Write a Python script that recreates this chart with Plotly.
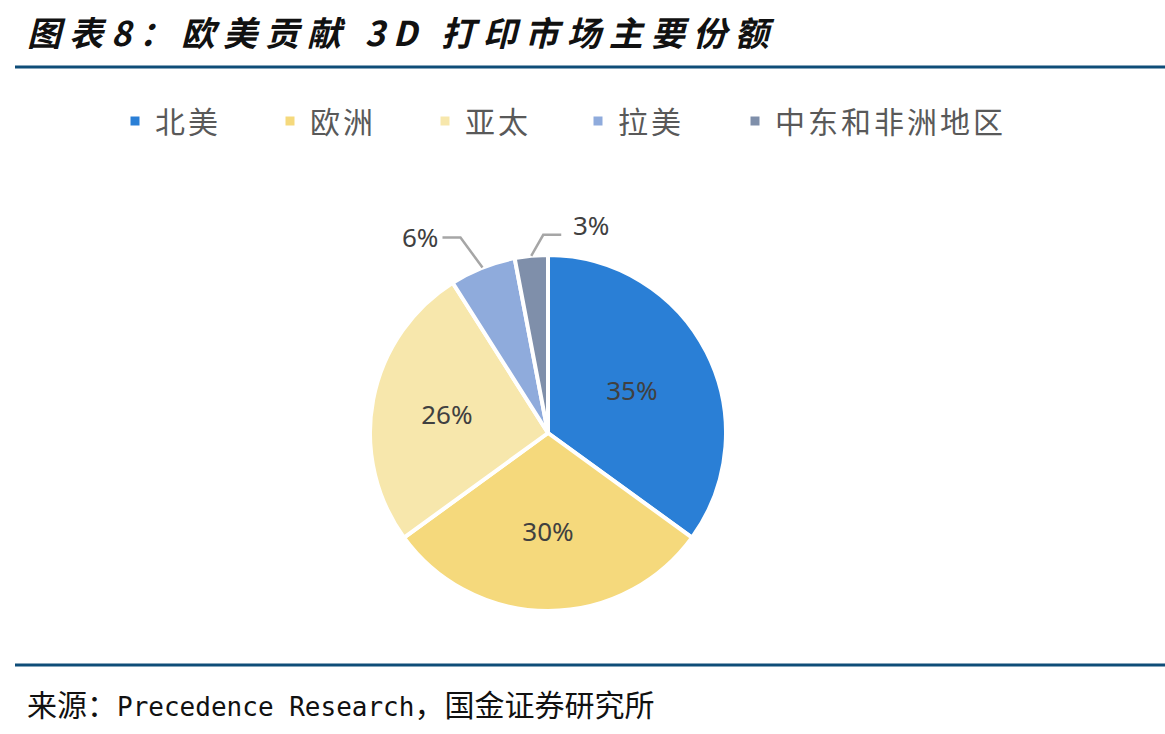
import math
import plotly.graph_objects as go

regions = ["北美", "欧洲", "亚太", "拉美", "中东和非洲地区"]
shares = [35, 30, 26, 6, 3]
colors = ["#2A7FD6", "#F5D97C", "#F7E7AC", "#8FABDC", "#7F8FAA"]
title_text = "图表8：欧美贡献 3D 打印市场主要份额"
source_cn1 = "来源："
source_en = "Precedence Research"
source_cn2 = "，国金证券研究所"

W, H = 1165, 734
cx, cy, r = 548, 433, 178
legend_text_x = [155, 310, 465, 618, 775]

inside_text = [f"{v}%" if v >= 10 else "" for v in shares]

fig = go.Figure()
fig.add_trace(go.Pie(
    labels=regions, values=shares, sort=False, direction="clockwise", rotation=0,
    marker=dict(colors=colors, line=dict(color="white", width=4)),
    text=inside_text, textinfo="text", textposition="inside",
    insidetextorientation="horizontal",
    textfont=dict(family="Noto Sans, sans-serif", size=26, color="#404040"),
    domain=dict(x=[(cx - r) / W, (cx + r) / W], y=[(H - cy - r) / H, (H - cy + r) / H]),
    hoverinfo="label+percent", showlegend=False,
))

# legend entries: one small legend per region, placed along a row
legend_layouts = {}
for k, (name, col) in enumerate(zip(regions, colors)):
    lname = "legend" if k == 0 else f"legend{k + 1}"
    fig.add_trace(go.Scatter(
        x=[None], y=[None], mode="markers",
        name=f"<span style='letter-spacing:3px'>{name}</span>",
        marker=dict(symbol="square", size=9, color=col),
        legend=lname, showlegend=True, hoverinfo="skip",
    ))
    legend_layouts[lname] = dict(
        x=(legend_text_x[k] - 40) / W, y=1 - 121 / H, xanchor="left", yanchor="middle",
        orientation="h", bgcolor="rgba(0,0,0,0)",
        font=dict(family="Noto Sans CJK SC", size=30, color="#595959"),
        itemsizing="trace",
    )

# outside labels for small slices, with elbow leader lines
total = sum(shares)
cum = 0
shapes = []
annotations = []
for i, v in enumerate(shares):
    mid = (cum + v / 2) / total * 2 * math.pi
    cum += v
    if v >= 10:
        continue
    px = cx + r * 1.0 * math.sin(mid)
    py = cy - r * 1.0 * math.cos(mid)
    left = (i == 3)
    ey = py - 30 if left else py - 21
    ex = px - 22 if left else px + 12
    hx = ex - 18 if left else ex + 18
    lx = hx - 22 if left else hx + 30
    ly = ey if left else ey - 10
    pts = [(px, py), (ex, ey), (hx, ey)]
    path = "M " + " L ".join(f"{x / W},{1 - y / H}" for x, y in pts)
    shapes.append(dict(type="path", xref="paper", yref="paper", path=path,
                       line=dict(color="#A6A6A6", width=2.5)))
    annotations.append(dict(x=lx / W, y=1 - ly / H, xref="paper", yref="paper",
                            text=f"{v}%", showarrow=False, xanchor="center", yanchor="middle",
                            font=dict(family="Noto Sans, sans-serif", size=26, color="#404040")))

annotations.append(dict(x=25 / W, y=1 - 31 / H, xref="paper", yref="paper",
                        text=f"<b><i><span style='letter-spacing:8px'>{title_text}</span></i></b>",
                        showarrow=False, xanchor="left", yanchor="middle",
                        font=dict(family="Noto Sans CJK SC", size=34, color="#111111")))
annotations.append(dict(x=25 / W, y=1 - 705 / H, xref="paper", yref="paper",
                        text=(f"<span style='font-size:30px'>{source_cn1}</span>{source_en}"
                              f"<span style='font-size:30px'>{source_cn2}</span>"),
                        showarrow=False, xanchor="left", yanchor="middle",
                        font=dict(family="DejaVu Sans Mono, Noto Sans CJK SC", size=26, color="#111111")))

for yy in (67, 665):
    shapes.append(dict(type="line", xref="paper", yref="paper", x0=15 / W, x1=1, y0=1 - yy / H, y1=1 - yy / H,
                       line=dict(color="#0E4D78", width=3)))

fig.update_layout(
    width=W, height=H, margin=dict(l=0, r=0, t=0, b=0),
    paper_bgcolor="white", plot_bgcolor="white",
    showlegend=True,
    xaxis=dict(visible=False), yaxis=dict(visible=False),
    shapes=shapes, annotations=annotations,
    **legend_layouts,
)

fig.write_html("out.html")
